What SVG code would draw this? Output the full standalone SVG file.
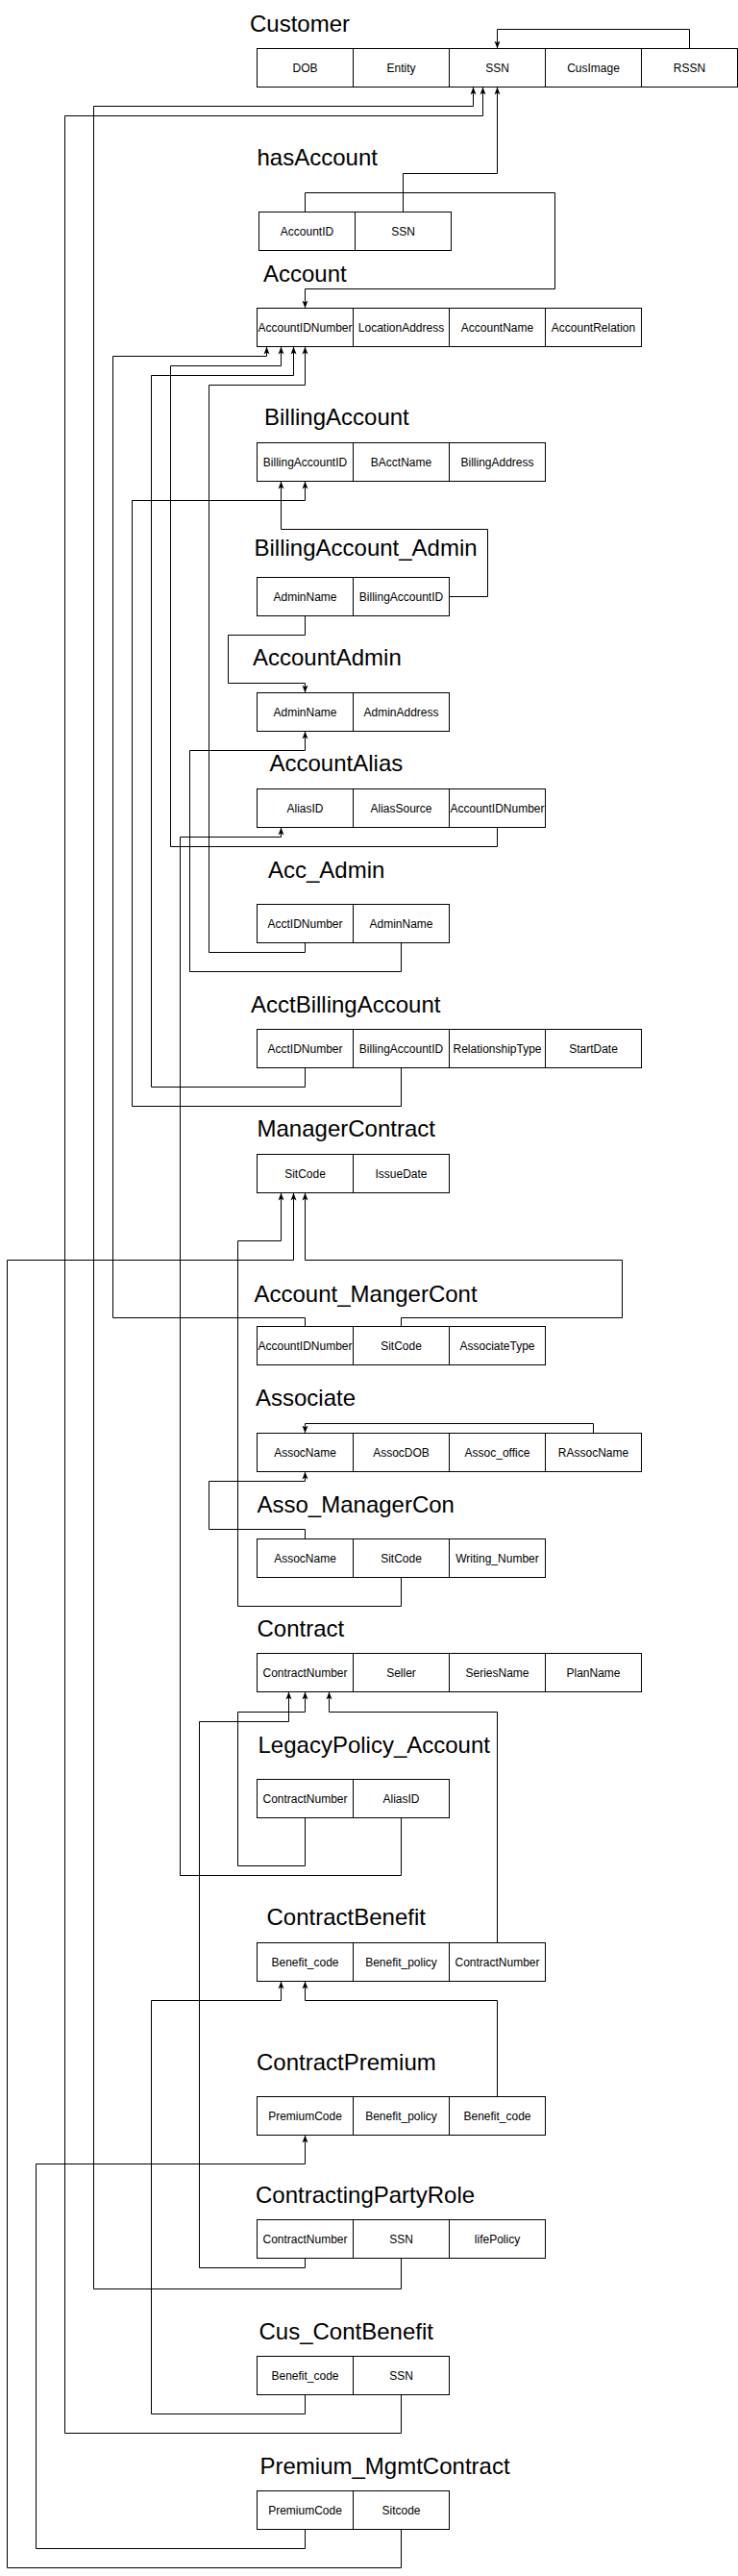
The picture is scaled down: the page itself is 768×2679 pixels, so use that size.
<svg xmlns="http://www.w3.org/2000/svg" width="768" height="2679" viewBox="0 0 768 2679">
<style>
.cell{fill:#fff;stroke:#000;stroke-width:1}
.ct{font-family:"Liberation Sans",Arial,sans-serif;font-size:12px;fill:#000;text-anchor:middle}
.title{font-family:"Liberation Sans",Arial,sans-serif;font-size:24px;fill:#000}
.conn{fill:none;stroke:#000;stroke-width:1}
.arr{marker-end:url(#ah)}
</style>
<defs>
<marker id="ah" markerUnits="userSpaceOnUse" markerWidth="8" markerHeight="8" viewBox="0 0 8 8" refX="8" refY="4" orient="auto">
<path d="M0,1 L8,4 L0,7 L2,4 z" fill="#000"/>
</marker>
</defs>
<rect width="768" height="2679" fill="#fff"/>

<g id="connectors">
<path class="conn arr" d="M717.5,50.5 V30.5 H517.5 V50.5"/>
<path class="conn arr" d="M419.5,220.5 V180.5 H517.5 V90.5"/>
<path class="conn arr" d="M317.5,220.5 V200.5 H577.5 V300.5 H317.5 V320.5"/>
<path class="conn arr" d="M417.5,2348.5 V2380.5 H97.5 V110.5 H492.5 V90.5"/>
<path class="conn arr" d="M417.5,2490.5 V2530.5 H67.5 V120.5 H502.5 V90.5"/>
<path class="conn arr" d="M317.5,1379.5 V1370.5 H117.5 V370.5 H277.5 V360.5"/>
<path class="conn arr" d="M517.5,860.5 V880.5 H177.5 V380.5 H292.5 V360.5"/>
<path class="conn arr" d="M317.5,1110.5 V1130.5 H157.5 V390.5 H305.5 V360.5"/>
<path class="conn arr" d="M317.5,980.5 V990.5 H217.5 V400.5 H317.5 V360.5"/>
<path class="conn arr" d="M417.5,1110.5 V1150.5 H137.5 V520.5 H317.5 V500.5"/>
<path class="conn arr" d="M467.5,620.5 H507.5 V550.5 H292.5 V500.5"/>
<path class="conn arr" d="M317.5,640.5 V660.5 H237.5 V710.5 H317.5 V720.5"/>
<path class="conn arr" d="M417.5,980.5 V1010.5 H197.5 V780.5 H317.5 V760.5"/>
<path class="conn arr" d="M417.5,1890.5 V1950.5 H187.5 V870.5 H292.5 V860.5"/>
<path class="conn arr" d="M417.5,1640.5 V1670.5 H247.5 V1290.5 H292.5 V1240.5"/>
<path class="conn arr" d="M417.5,2630.5 V2670.5 H7.5 V1310.5 H305.5 V1240.5"/>
<path class="conn arr" d="M417.5,1379.5 V1370.5 H647.5 V1310.5 H317.5 V1240.5"/>
<path class="conn arr" d="M617.5,1490.5 V1480.5 H317.5 V1490.5"/>
<path class="conn arr" d="M317.5,1600.5 V1590.5 H217.5 V1540.5 H317.5 V1530.5"/>
<path class="conn arr" d="M317.5,2348.5 V2358.5 H207.5 V1790.5 H300.5 V1759.5"/>
<path class="conn arr" d="M317.5,1890.5 V1940.5 H247.5 V1780.5 H317.5 V1759.5"/>
<path class="conn arr" d="M517.5,2020.5 V1780.5 H342.5 V1759.5"/>
<path class="conn arr" d="M317.5,2490.5 V2510.5 H157.5 V2080.5 H292.5 V2060.5"/>
<path class="conn arr" d="M517.5,2180.5 V2080.5 H317.5 V2060.5"/>
<path class="conn arr" d="M317.5,2630.5 V2650.5 H37.5 V2250.5 H317.5 V2220.5"/>
</g>

<g id="Customer">
<text class="title" x="260" y="33">Customer</text>
<rect class="cell" x="267.5" y="50.5" width="100" height="40"/><text class="ct" x="317.5" y="74.5">DOB</text>
<rect class="cell" x="367.5" y="50.5" width="100" height="40"/><text class="ct" x="417.5" y="74.5">Entity</text>
<rect class="cell" x="467.5" y="50.5" width="100" height="40"/><text class="ct" x="517.5" y="74.5">SSN</text>
<rect class="cell" x="567.5" y="50.5" width="100" height="40"/><text class="ct" x="617.5" y="74.5">CusImage</text>
<rect class="cell" x="667.5" y="50.5" width="100" height="40"/><text class="ct" x="717.5" y="74.5">RSSN</text>
</g>

<g id="hasAccount">
<text class="title" x="267.5" y="172">hasAccount</text>
<rect class="cell" x="269.5" y="220.5" width="100" height="40"/><text class="ct" x="319.5" y="244.5">AccountID</text>
<rect class="cell" x="369.5" y="220.5" width="100" height="40"/><text class="ct" x="419.5" y="244.5">SSN</text>
</g>

<g id="Account">
<text class="title" x="274" y="293">Account</text>
<rect class="cell" x="267.5" y="320.5" width="100" height="40"/><text class="ct" x="317.5" y="344.5">AccountIDNumber</text>
<rect class="cell" x="367.5" y="320.5" width="100" height="40"/><text class="ct" x="417.5" y="344.5">LocationAddress</text>
<rect class="cell" x="467.5" y="320.5" width="100" height="40"/><text class="ct" x="517.5" y="344.5">AccountName</text>
<rect class="cell" x="567.5" y="320.5" width="100" height="40"/><text class="ct" x="617.5" y="344.5">AccountRelation</text>
</g>

<g id="BillingAccount">
<text class="title" x="275" y="442">BillingAccount</text>
<rect class="cell" x="267.5" y="460.5" width="100" height="40"/><text class="ct" x="317.5" y="484.5">BillingAccountID</text>
<rect class="cell" x="367.5" y="460.5" width="100" height="40"/><text class="ct" x="417.5" y="484.5">BAcctName</text>
<rect class="cell" x="467.5" y="460.5" width="100" height="40"/><text class="ct" x="517.5" y="484.5">BillingAddress</text>
</g>

<g id="BillingAccount_Admin">
<text class="title" x="264.5" y="578">BillingAccount_Admin</text>
<rect class="cell" x="267.5" y="600.5" width="100" height="40"/><text class="ct" x="317.5" y="624.5">AdminName</text>
<rect class="cell" x="367.5" y="600.5" width="100" height="40"/><text class="ct" x="417.5" y="624.5">BillingAccountID</text>
</g>

<g id="AccountAdmin">
<text class="title" x="263" y="692">AccountAdmin</text>
<rect class="cell" x="267.5" y="720.5" width="100" height="40"/><text class="ct" x="317.5" y="744.5">AdminName</text>
<rect class="cell" x="367.5" y="720.5" width="100" height="40"/><text class="ct" x="417.5" y="744.5">AdminAddress</text>
</g>

<g id="AccountAlias">
<text class="title" x="280.5" y="802">AccountAlias</text>
<rect class="cell" x="267.5" y="820.5" width="100" height="40"/><text class="ct" x="317.5" y="844.5">AliasID</text>
<rect class="cell" x="367.5" y="820.5" width="100" height="40"/><text class="ct" x="417.5" y="844.5">AliasSource</text>
<rect class="cell" x="467.5" y="820.5" width="100" height="40"/><text class="ct" x="517.5" y="844.5">AccountIDNumber</text>
</g>

<g id="Acc_Admin">
<text class="title" x="279" y="913">Acc_Admin</text>
<rect class="cell" x="267.5" y="940.5" width="100" height="40"/><text class="ct" x="317.5" y="964.5">AcctIDNumber</text>
<rect class="cell" x="367.5" y="940.5" width="100" height="40"/><text class="ct" x="417.5" y="964.5">AdminName</text>
</g>

<g id="AcctBillingAccount">
<text class="title" x="261" y="1053">AcctBillingAccount</text>
<rect class="cell" x="267.5" y="1070.5" width="100" height="40"/><text class="ct" x="317.5" y="1094.5">AcctIDNumber</text>
<rect class="cell" x="367.5" y="1070.5" width="100" height="40"/><text class="ct" x="417.5" y="1094.5">BillingAccountID</text>
<rect class="cell" x="467.5" y="1070.5" width="100" height="40"/><text class="ct" x="517.5" y="1094.5">RelationshipType</text>
<rect class="cell" x="567.5" y="1070.5" width="100" height="40"/><text class="ct" x="617.5" y="1094.5">StartDate</text>
</g>

<g id="ManagerContract">
<text class="title" x="267.5" y="1182">ManagerContract</text>
<rect class="cell" x="267.5" y="1200.5" width="100" height="40"/><text class="ct" x="317.5" y="1224.5">SitCode</text>
<rect class="cell" x="367.5" y="1200.5" width="100" height="40"/><text class="ct" x="417.5" y="1224.5">IssueDate</text>
</g>

<g id="Account_MangerCont">
<text class="title" x="264.5" y="1354">Account_MangerCont</text>
<rect class="cell" x="267.5" y="1379.5" width="100" height="40"/><text class="ct" x="317.5" y="1403.5">AccountIDNumber</text>
<rect class="cell" x="367.5" y="1379.5" width="100" height="40"/><text class="ct" x="417.5" y="1403.5">SitCode</text>
<rect class="cell" x="467.5" y="1379.5" width="100" height="40"/><text class="ct" x="517.5" y="1403.5">AssociateType</text>
</g>

<g id="Associate">
<text class="title" x="266" y="1462">Associate</text>
<rect class="cell" x="267.5" y="1490.5" width="100" height="40"/><text class="ct" x="317.5" y="1514.5">AssocName</text>
<rect class="cell" x="367.5" y="1490.5" width="100" height="40"/><text class="ct" x="417.5" y="1514.5">AssocDOB</text>
<rect class="cell" x="467.5" y="1490.5" width="100" height="40"/><text class="ct" x="517.5" y="1514.5">Assoc_office</text>
<rect class="cell" x="567.5" y="1490.5" width="100" height="40"/><text class="ct" x="617.5" y="1514.5">RAssocName</text>
</g>

<g id="Asso_ManagerCon">
<text class="title" x="267.5" y="1573">Asso_ManagerCon</text>
<rect class="cell" x="267.5" y="1600.5" width="100" height="40"/><text class="ct" x="317.5" y="1624.5">AssocName</text>
<rect class="cell" x="367.5" y="1600.5" width="100" height="40"/><text class="ct" x="417.5" y="1624.5">SitCode</text>
<rect class="cell" x="467.5" y="1600.5" width="100" height="40"/><text class="ct" x="517.5" y="1624.5">Writing_Number</text>
</g>

<g id="Contract">
<text class="title" x="267.5" y="1702">Contract</text>
<rect class="cell" x="267.5" y="1719.5" width="100" height="40"/><text class="ct" x="317.5" y="1743.5">ContractNumber</text>
<rect class="cell" x="367.5" y="1719.5" width="100" height="40"/><text class="ct" x="417.5" y="1743.5">Seller</text>
<rect class="cell" x="467.5" y="1719.5" width="100" height="40"/><text class="ct" x="517.5" y="1743.5">SeriesName</text>
<rect class="cell" x="567.5" y="1719.5" width="100" height="40"/><text class="ct" x="617.5" y="1743.5">PlanName</text>
</g>

<g id="LegacyPolicy_Account">
<text class="title" x="268.5" y="1823">LegacyPolicy_Account</text>
<rect class="cell" x="267.5" y="1850.5" width="100" height="40"/><text class="ct" x="317.5" y="1874.5">ContractNumber</text>
<rect class="cell" x="367.5" y="1850.5" width="100" height="40"/><text class="ct" x="417.5" y="1874.5">AliasID</text>
</g>

<g id="ContractBenefit">
<text class="title" x="277.5" y="2002">ContractBenefit</text>
<rect class="cell" x="267.5" y="2020.5" width="100" height="40"/><text class="ct" x="317.5" y="2044.5">Benefit_code</text>
<rect class="cell" x="367.5" y="2020.5" width="100" height="40"/><text class="ct" x="417.5" y="2044.5">Benefit_policy</text>
<rect class="cell" x="467.5" y="2020.5" width="100" height="40"/><text class="ct" x="517.5" y="2044.5">ContractNumber</text>
</g>

<g id="ContractPremium">
<text class="title" x="267" y="2152.5">ContractPremium</text>
<rect class="cell" x="267.5" y="2180.5" width="100" height="40"/><text class="ct" x="317.5" y="2204.5">PremiumCode</text>
<rect class="cell" x="367.5" y="2180.5" width="100" height="40"/><text class="ct" x="417.5" y="2204.5">Benefit_policy</text>
<rect class="cell" x="467.5" y="2180.5" width="100" height="40"/><text class="ct" x="517.5" y="2204.5">Benefit_code</text>
</g>

<g id="ContractingPartyRole">
<text class="title" x="266" y="2290.5">ContractingPartyRole</text>
<rect class="cell" x="267.5" y="2308.5" width="100" height="40"/><text class="ct" x="317.5" y="2332.5">ContractNumber</text>
<rect class="cell" x="367.5" y="2308.5" width="100" height="40"/><text class="ct" x="417.5" y="2332.5">SSN</text>
<rect class="cell" x="467.5" y="2308.5" width="100" height="40"/><text class="ct" x="517.5" y="2332.5">lifePolicy</text>
</g>

<g id="Cus_ContBenefit">
<text class="title" x="269.5" y="2433">Cus_ContBenefit</text>
<rect class="cell" x="267.5" y="2450.5" width="100" height="40"/><text class="ct" x="317.5" y="2474.5">Benefit_code</text>
<rect class="cell" x="367.5" y="2450.5" width="100" height="40"/><text class="ct" x="417.5" y="2474.5">SSN</text>
</g>

<g id="Premium_MgmtContract">
<text class="title" x="270.5" y="2572.5">Premium_MgmtContract</text>
<rect class="cell" x="267.5" y="2590.5" width="100" height="40"/><text class="ct" x="317.5" y="2614.5">PremiumCode</text>
<rect class="cell" x="367.5" y="2590.5" width="100" height="40"/><text class="ct" x="417.5" y="2614.5">Sitcode</text>
</g>
</svg>
